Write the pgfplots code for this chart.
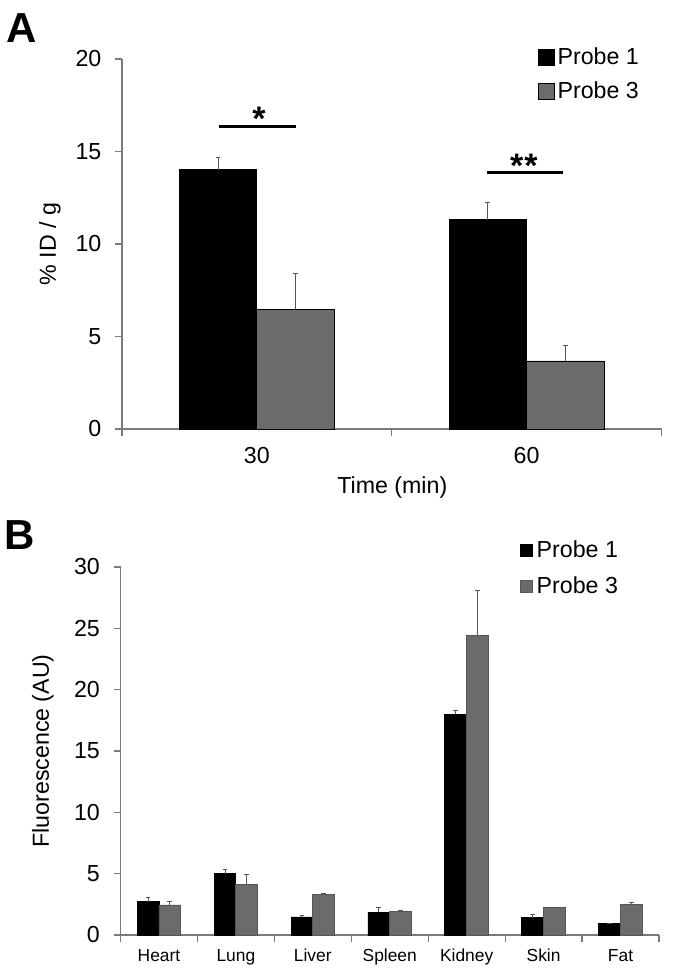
\documentclass[border=0pt]{standalone}
\usepackage{fontspec}
\setmainfont{Liberation Sans}
\usepackage{pgfplots}
\pgfplotsset{compat=1.18}
\definecolor{pgray}{HTML}{6B6B6B}
\definecolor{axgray}{HTML}{7A7A7A}
\definecolor{errgray}{HTML}{555555}
\pgfplotsset{
  myaxis/.style={
    scale only axis, ybar,
    axis lines*=left,
    axis line style={axgray, line width=0.75pt},
    tick align=outside, major tick length=3.3pt,
    tick style={axgray, line width=0.6pt},
    /pgf/number format/assume math mode=true,
    tick label style={font=\fontsize{11.6}{13}\selectfont, black},
    yticklabel style={xshift=-3.5pt},
    xticklabels={},
    error bars/y dir=plus, error bars/y explicit,
    error bars/error bar style={errgray, line width=0.5pt},
    error bars/error mark options={rotate=90, mark size=1.2pt, errgray, line width=0.5pt},
    legend cell align=left,
  }
}
\pgfplotstableread{
x y e
1 14.02 0.63
2 11.31 0.91
}\Aone
\pgfplotstableread{
x y e
1 6.47 1.93
2 3.68 0.82
}\Athree
\pgfplotstableread{
x y e
1 2.71 0.33
2 5.00 0.32
3 1.47 0.13
4 1.87 0.36
5 17.98 0.30
6 1.41 0.27
7 0.92 0.05
}\Bone
\pgfplotstableread{
x y e
1 2.45 0.32
2 4.13 0.84
3 3.29 0.08
4 1.93 0.05
5 24.45 3.65
6 2.23 0.03
7 2.47 0.22
}\Bthree
\begin{document}
\begin{tikzpicture}
\path[use as bounding box] (0,0) rectangle (337.5pt,-490pt);
\node[anchor=north west, inner sep=0pt, font=\bfseries\fontsize{21}{21}\selectfont] at (3pt,-6.5pt) {A};
\node[anchor=north west, inner sep=0pt, font=\bfseries\fontsize{21}{21}\selectfont] at (2pt,-260pt) {B};
% Panel A
\begin{axis}[myaxis,
  at={(61pt,-214.5pt)}, anchor=south west,
  width=269.75pt, height=185pt,
  xmin=0.5, xmax=2.5, ymin=0, ymax=20,
  ytick={0,5,10,15,20},
  xtick={0.5,1.5,2.5},
  extra x ticks={1,2}, extra x tick labels={30,60},
  extra x tick style={major tick length=0pt, tick label style={yshift=-5.5pt}},
  bar width=0.2876,
  ylabel={\% ID / g},
  every axis y label/.style={at={(axis description cs:-0.1335,0.5)}, rotate=90, anchor=center, font=\fontsize{11.6}{13}\selectfont},
  xlabel={Time (min)},
  every axis x label/.style={at={(axis description cs:0.501,-0.159)}, anchor=center, font=\fontsize{11.6}{13}\selectfont},
  legend style={at={(axis description cs:0.77,0.958)}, anchor=west, draw=none, fill=none,
    inner sep=0pt, row sep=7pt, font=\fontsize{11.6}{13}\selectfont,
    nodes={inner xsep=1.5pt, inner ysep=0pt}},
  legend image code/.code={\draw[#1] (0pt,-4pt) rectangle (8pt,4pt);},
]
\addplot[fill=black, draw=black, line width=0.4pt, bar shift=-0.1438] table[x=x, y=y, y error=e] {\Aone};
\addlegendentry{Probe 1}
\addplot[fill=pgray, draw=black, line width=0.4pt, bar shift=0.1438] table[x=x, y=y, y error=e] {\Athree};
\addlegendentry{Probe 3}
\draw[line width=1.5pt] (axis cs:0.86,16.36) -- (axis cs:1.144,16.36);
\node[font=\bfseries\fontsize{17}{17}\selectfont, inner sep=0pt] at (axis cs:1.008,16.75) {*};
\draw[line width=1.5pt] (axis cs:1.852,13.86) -- (axis cs:2.133,13.86);
\node[font=\bfseries\fontsize{17}{17}\selectfont, inner sep=0pt] at (axis cs:1.99,14.25) {*\hspace{0.5pt}*};
\end{axis}
% Panel B
\begin{axis}[myaxis,
  at={(60.25pt,-467.5pt)}, anchor=south west,
  width=269.25pt, height=184pt,
  xmin=0.5, xmax=7.5, ymin=0, ymax=30,
  ytick={0,5,10,15,20,25,30},
  xtick={0.5,1.5,...,7.5},
  extra x ticks={1,2,3,4,5,6,7},
  extra x tick labels={Heart,Lung,Liver,Spleen,Kidney,Skin,Fat},
  extra x tick style={major tick length=0pt, tick label style={font=\fontsize{8.7}{10}\selectfont, yshift=-3.5pt}},
  bar width=0.283,
  ylabel={Fluorescence (AU)},
  every axis y label/.style={at={(axis description cs:-0.144,0.5)}, rotate=90, anchor=center, font=\fontsize{11.6}{13}\selectfont},
  legend style={at={(axis description cs:0.741,0.996)}, anchor=west, draw=none, fill=none,
    inner sep=0pt, row sep=8pt, font=\fontsize{11.6}{13}\selectfont,
    nodes={inner xsep=2pt, inner ysep=0pt}},
  legend image code/.code={\draw[#1] (0pt,-3pt) rectangle (6pt,3pt);},
]
\addplot[fill=black, draw=black, line width=0.4pt, bar shift=-0.1415] table[x=x, y=y, y error=e] {\Bone};
\addlegendentry{Probe 1}
\addplot[fill=pgray, draw=pgray!80!black, line width=0.4pt, bar shift=0.1415] table[x=x, y=y, y error=e] {\Bthree};
\addlegendentry{Probe 3}
\end{axis}
\end{tikzpicture}
\end{document}
